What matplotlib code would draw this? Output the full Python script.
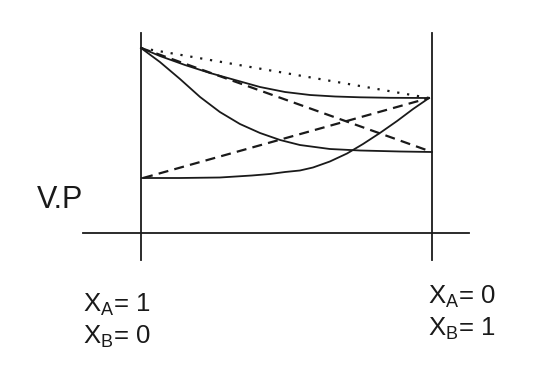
import numpy as np
import matplotlib
matplotlib.use("Agg")
from matplotlib import pyplot as plt

# region: data (x = mole fraction of B, P = vapour pressure, arbitrary units)
x_ideal = [0.0, 0.99]
p_ideal = [185, 135]

x_partial_a = [0.0, 1.0]
p_partial_a = [185, 81]
x_partial_b = [0.007, 0.99]
p_partial_b = [55, 135]

x_upper = [0.0, 0.065, 0.151, 0.237, 0.323, 0.409, 0.495, 0.581, 0.667, 0.753, 0.856, 0.99]
p_upper = [185, 177, 168, 160, 153, 146, 141, 138, 136.5, 135.7, 135.2, 135]

x_lower = [0.0, 0.065, 0.134, 0.203, 0.271, 0.340, 0.409, 0.478, 0.546, 0.649, 0.753, 0.890, 1.0]
p_lower = [185, 171, 154, 136, 121, 109, 100, 93, 88, 84, 82.5, 81.5, 81]

x_rise = [0.003, 0.134, 0.271, 0.381, 0.443, 0.495, 0.546, 0.591, 0.649, 0.708,
          0.763, 0.821, 0.880, 0.935, 0.99]
p_rise = [55, 55, 55.5, 57.5, 59, 61, 62.5, 65.5, 71.5, 79.5,
          89, 100, 112, 124, 135]

label_left = ["X$_\\mathregular{A}$= 1", "X$_\\mathregular{B}$= 0"]
label_right = ["X$_\\mathregular{A}$= 0", "X$_\\mathregular{B}$= 1"]
# endregion

plt.rcParams["font.family"] = ["Liberation Sans", "DejaVu Sans"]
plt.rcParams["mathtext.fontset"] = "custom"
plt.rcParams["mathtext.rm"] = "Liberation Sans"

fig = plt.figure(figsize=(5.35, 3.91), dpi=100)
ax = fig.add_axes([0, 0, 1, 1])
ax.set_xlim(-141 / 291, 394 / 291)
ax.set_ylim(-158, 233)
ax.axis("off")

col = "#1a1a1a"
lw = 1.3

# frame lines
ax.plot([0, 0], [-27, 200], color=col, lw=lw)
ax.plot([1, 1], [-27, 200], color=col, lw=lw)
ax.plot([-0.199, 1.127], [0, 0], color=col, lw=lw)

ax.plot(x_ideal, p_ideal, color=col, lw=1.6, linestyle=(0, (1, 3.5)))
ax.plot(x_partial_a, p_partial_a, color=col, lw=1.6, linestyle=(0, (4.5, 2.8)))
ax.plot(x_partial_b, p_partial_b, color=col, lw=1.6, linestyle=(0, (4.5, 2.8)))
ax.plot(x_upper, p_upper, color=col, lw=lw, solid_joinstyle="round")
ax.plot(x_lower, p_lower, color=col, lw=lw, solid_joinstyle="round")
ax.plot(x_rise, p_rise, color=col, lw=lw, solid_joinstyle="round")

fig.text(37 / 535, 1 - 208 / 391, "V.P", fontsize=22, color=col, va="baseline")
fig.text(83 / 535, 1 - 312 / 391, label_left[0], fontsize=18.5, color=col, va="baseline")
fig.text(83 / 535, 1 - 344 / 391, label_left[1], fontsize=18.5, color=col, va="baseline")
fig.text(428 / 535, 1 - 303 / 391, label_right[0], fontsize=18.5, color=col, va="baseline")
fig.text(428 / 535, 1 - 335 / 391, label_right[1], fontsize=18.5, color=col, va="baseline")

fig.savefig("out.png", dpi=100, facecolor="white")
